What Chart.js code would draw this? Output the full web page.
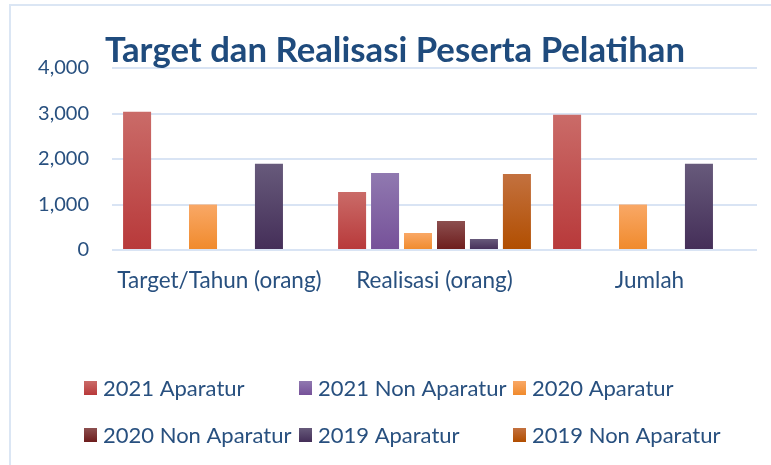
<!DOCTYPE html>
<html>
<head>
<meta charset="utf-8">
<script src="https://cdn.jsdelivr.net/npm/chart.js@4"></script>
<style>
  html, body { margin: 0; padding: 0; background: #fff; }
  #wrap { width: 771px; height: 465px; }
</style>
</head>
<body>
<div id="wrap"><canvas id="chart" width="771" height="465"></canvas></div>
<script>
// Values
const categories = ["Target/Tahun (orang)", "Realisasi (orang)", "Jumlah"];
const aparatur2021 = [3040, 1275, 2970];
const nonAparatur2021 = [null, 1692, null];
const aparatur2020 = [1000, 374, 1000];
const nonAparatur2020 = [null, 637, null];
const aparatur2019 = [1895, 242, 1895];
const nonAparatur2019 = [null, 1670, null];
const seriesNames = ["2021 Aparatur", "2021 Non Aparatur", "2020 Aparatur",
                     "2020 Non Aparatur", "2019 Aparatur", "2019 Non Aparatur"];
const yTicks = [0, 1000, 2000, 3000, 4000];

const titleText = "Target dan Realisasi Peserta Pelatihan";
const textColor = "#28507f";

// top / bottom colour of each gradient bar
const topColors = ["#ca6b68", "#9079b0", "#f9a866", "#8c4f4f", "#675a7b", "#c3713f"];
const bottomColors = ["#b8393a", "#765199", "#f08a2c", "#6d1c1c", "#442e58", "#b14e00"];

const seriesValues = [aparatur2021, nonAparatur2021, aparatur2020,
                      nonAparatur2020, aparatur2019, nonAparatur2019];

function barGradient(i) {
    return function(ctx) {
        const chart = ctx.chart;
        const y = chart.scales.y;
        const v = ctx.raw;
        if (!y || v == null || ctx.type !== "data") return bottomColors[i];
        const top = y.getPixelForValue(v);
        const base = y.getPixelForValue(0);
        if (!isFinite(top) || !isFinite(base) || top === base) return bottomColors[i];
        const g = chart.ctx.createLinearGradient(0, top, 0, base);
        g.addColorStop(0, topColors[i]);
        g.addColorStop(1, bottomColors[i]);
        return g;
    };
}

const datasets = seriesNames.map((name, i) => ({
    label: name,
    data: seriesValues[i],
    backgroundColor: barGradient(i),
    borderWidth: 0,
    categoryPercentage: 0.92,
    barPercentage: 0.85
}));

// title, frame and legend drawn on the canvas
const decor = {
    id: "decor",
    beforeDraw(chart) {
        const c = chart.ctx;
        c.save();
        c.strokeStyle = "#dbe6f4";
        c.lineWidth = 2;
        c.beginPath();
        c.moveTo(10, 465);
        c.lineTo(10, 5);
        c.lineTo(771, 5);
        c.stroke();
        c.restore();
    },
    afterDraw(chart) {
        const c = chart.ctx;
        c.save();
        // title, squeezed like the original
        c.font = "bold 34px Lato";
        c.fillStyle = "#1f4b7d";
        c.textBaseline = "alphabetic";
        const w = c.measureText(titleText).width;
        c.translate(105, 62);
        c.scale(580 / w, 1);
        c.fillText(titleText, 0, 0);
        c.restore();

        // legend in a 3 x 2 grid
        c.save();
        c.font = "22px Lato";
        c.textBaseline = "middle";
        const cols = [84, 299, 513];
        const rows = [388, 435];
        seriesNames.forEach((name, i) => {
            const x = cols[i % 3];
            const y = rows[Math.floor(i / 3)];
            const g = c.createLinearGradient(0, y - 7, 0, y + 7);
            g.addColorStop(0, topColors[i]);
            g.addColorStop(1, bottomColors[i]);
            c.fillStyle = g;
            c.fillRect(x, y - 7, 13, 14);
            c.fillStyle = textColor;
            c.fillText(name, x + 19, y + 1);
        });
        c.restore();
    }
};

const chart = new Chart(document.getElementById("chart"), {
    type: "bar",
    data: { labels: categories, datasets },
    options: {
        responsive: false,
        animation: false,
        layout: { padding: { left: 0, right: 14, top: 68, bottom: 0 } },
        plugins: {
            legend: { display: false },
            title: { display: false },
            tooltip: { enabled: false }
        },
        scales: {
            x: {
                grid: { display: false, drawTicks: false },
                border: { display: false },
                ticks: {
                    color: textColor,
                    font: { family: "Lato", size: 22.5 },
                    padding: 17,
                    maxRotation: 0
                },
                afterFit(s) { s.height = 215; }
            },
            y: {
                min: 0,
                max: 4000,
                afterBuildTicks(s) { s.ticks = yTicks.map(v => ({ value: v })); },
                grid: { color: "#d9e4f4", lineWidth: 2, drawTicks: false },
                border: { display: false },
                ticks: {
                    color: textColor,
                    font: { family: "Lato", size: 20 },
                    padding: 23,
                    callback: v => v.toLocaleString("en-US")
                },
                afterFit(s) { s.width = 112; }
            }
        }
    },
    plugins: [decor]
});
</script>
</body>
</html>
